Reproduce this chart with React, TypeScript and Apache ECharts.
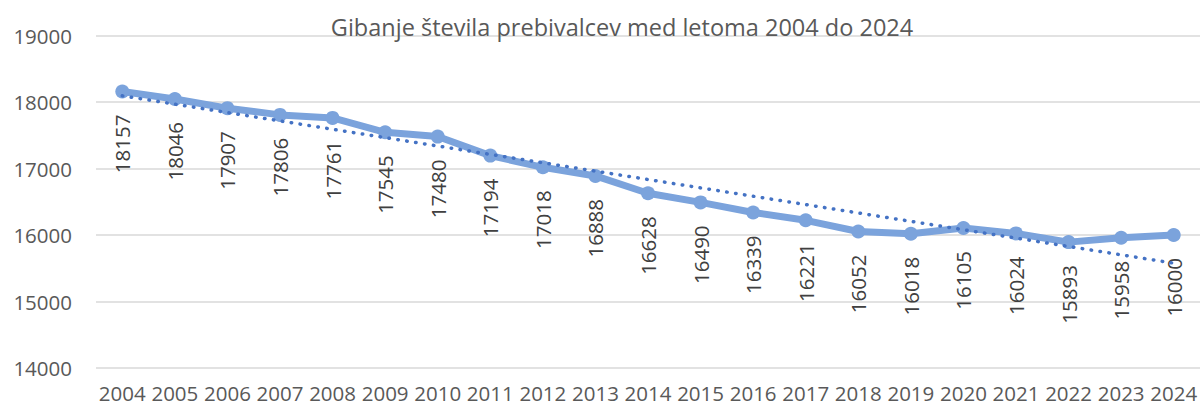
import React, { useEffect, useRef } from "react";
import * as echarts from "echarts";

const years = ["2004","2005","2006","2007","2008","2009","2010","2011","2012","2013","2014","2015","2016","2017","2018","2019","2020","2021","2022","2023","2024"];
const population = [18157,18046,17907,17806,17761,17545,17480,17194,17018,16888,16628,16490,16339,16221,16052,16018,16105,16024,15893,15958,16000];
// Linear trendline endpoints (2004 and 2024)
const trendStart = 18093;
const trendEnd = 15576;
const yTicks = [14000, 15000, 16000, 17000, 18000, 19000];
const title = "Gibanje števila prebivalcev med letoma 2004 do 2024";

export default function App() {
  const ref = useRef<HTMLDivElement>(null);
  useEffect(() => {
    if (!ref.current) return;
    const chart = echarts.init(ref.current, null, { renderer: "svg" });
    const trend = years.map((_, i) => (i === 0 ? trendStart : i === years.length - 1 ? trendEnd : null));
    const font = "'Open Sans', sans-serif";
    chart.setOption({
      animation: false,
      backgroundColor: "#ffffff",
      title: {
        text: title,
        left: 617,
        textAlign: "center",
        top: 10,
        textStyle: { fontFamily: font, fontSize: 23.5, fontWeight: "normal", color: "#595959" },
      },
      grid: { left: 96, top: 35.5, width: 1111, height: 332.5, containLabel: false },
      xAxis: {
        type: "category",
        data: years,
        boundaryGap: true,
        axisLine: { show: false },
        axisTick: { show: false },
        axisLabel: { fontFamily: font, fontSize: 20.5, color: "#595959", margin: 14, interval: 0 },
      },
      yAxis: {
        type: "value",
        min: yTicks[0],
        max: yTicks[yTicks.length - 1],
        interval: 1000,
        axisLine: { show: false },
        axisTick: { show: false },
        splitLine: { lineStyle: { color: "#d9d9d9", width: 1.5 } },
        axisLabel: {
          fontFamily: font,
          fontSize: 20.5,
          color: "#595959",
          margin: 24,
          formatter: (v: number) => String(v),
        },
      },
      series: [
        {
          type: "line",
          data: population,
          symbol: "circle",
          symbolSize: 14,
          z: 2,
          itemStyle: { color: "#7BA3DC" },
          lineStyle: { color: "#7BA3DC", width: 7 },
          label: {
            show: true,
            position: "bottom",
            rotate: 90,
            align: "right",
            verticalAlign: "middle",
            distance: 16,
            fontFamily: font,
            fontSize: 20.5,
            color: "#404040",
          },
        },
        {
          type: "line",
          data: trend,
          connectNulls: true,
          symbol: "none",
          z: 3,
          lineStyle: { color: "#4472C4", width: 3.5, type: [0.5, 8.5], cap: "round" },
          silent: true,
        },
      ],
    });
    return () => chart.dispose();
  }, []);
  return <div ref={ref} style={{ position: "fixed", left: 0, top: 0, width: 1200, height: 407 }} />;
}
